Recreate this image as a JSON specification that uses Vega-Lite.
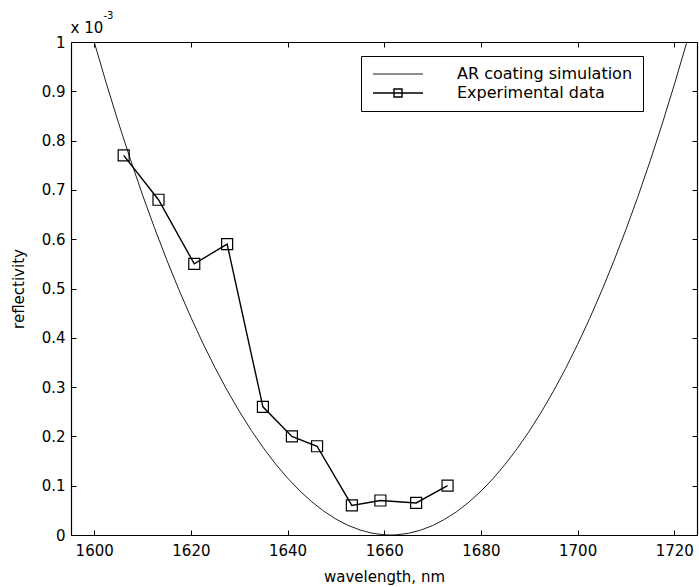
{
  "$schema": "https://vega.github.io/schema/vega-lite/v6.json",
  "width": 626,
  "height": 493,
  "autosize": {"type": "none"},
  "padding": {"left": 71, "top": 42, "right": 2, "bottom": 52},
  "background": "white",
  "config": {
    "view": {"stroke": null},
    "axis": {
      "grid": false,
      "domainColor": "black",
      "domainWidth": 1.2,
      "tickColor": "black",
      "tickSize": -5,
      "tickWidth": 1,
      "labelFont": "DejaVu Sans",
      "labelFontSize": 15,
      "labelColor": "black",
      "labelFlush": false,
      "labelOverlap": false,
      "titleFont": "DejaVu Sans",
      "titleFontSize": 15,
      "titleFontWeight": "normal",
      "titleColor": "black"
    }
  },
  "data": {
    "values": [
      {"series": "AR coating simulation", "wl": 1600, "r": 1.0},
      {"series": "AR coating simulation", "wl": 1602.5, "r": 0.9163},
      {"series": "AR coating simulation", "wl": 1605, "r": 0.8369},
      {"series": "AR coating simulation", "wl": 1607.5, "r": 0.7615},
      {"series": "AR coating simulation", "wl": 1610, "r": 0.6898},
      {"series": "AR coating simulation", "wl": 1612.5, "r": 0.6221},
      {"series": "AR coating simulation", "wl": 1615, "r": 0.5583},
      {"series": "AR coating simulation", "wl": 1617.5, "r": 0.498},
      {"series": "AR coating simulation", "wl": 1620, "r": 0.4415},
      {"series": "AR coating simulation", "wl": 1622.5, "r": 0.3886},
      {"series": "AR coating simulation", "wl": 1625, "r": 0.3393},
      {"series": "AR coating simulation", "wl": 1627.5, "r": 0.2934},
      {"series": "AR coating simulation", "wl": 1630, "r": 0.2511},
      {"series": "AR coating simulation", "wl": 1632.5, "r": 0.2121},
      {"series": "AR coating simulation", "wl": 1635, "r": 0.1766},
      {"series": "AR coating simulation", "wl": 1637.5, "r": 0.1443},
      {"series": "AR coating simulation", "wl": 1640, "r": 0.1154},
      {"series": "AR coating simulation", "wl": 1642.5, "r": 0.0898},
      {"series": "AR coating simulation", "wl": 1645, "r": 0.0674},
      {"series": "AR coating simulation", "wl": 1647.5, "r": 0.0483},
      {"series": "AR coating simulation", "wl": 1650, "r": 0.0323},
      {"series": "AR coating simulation", "wl": 1652.5, "r": 0.0196},
      {"series": "AR coating simulation", "wl": 1655, "r": 0.0101},
      {"series": "AR coating simulation", "wl": 1657.5, "r": 0.0036},
      {"series": "AR coating simulation", "wl": 1660, "r": 0.0004},
      {"series": "AR coating simulation", "wl": 1661.3, "r": 0.0},
      {"series": "AR coating simulation", "wl": 1662.5, "r": 0.0004},
      {"series": "AR coating simulation", "wl": 1665, "r": 0.0034},
      {"series": "AR coating simulation", "wl": 1667.5, "r": 0.0097},
      {"series": "AR coating simulation", "wl": 1670, "r": 0.0191},
      {"series": "AR coating simulation", "wl": 1672.5, "r": 0.0318},
      {"series": "AR coating simulation", "wl": 1675, "r": 0.0475},
      {"series": "AR coating simulation", "wl": 1677.5, "r": 0.0665},
      {"series": "AR coating simulation", "wl": 1680, "r": 0.0888},
      {"series": "AR coating simulation", "wl": 1682.5, "r": 0.1143},
      {"series": "AR coating simulation", "wl": 1685, "r": 0.1431},
      {"series": "AR coating simulation", "wl": 1687.5, "r": 0.1753},
      {"series": "AR coating simulation", "wl": 1690, "r": 0.2106},
      {"series": "AR coating simulation", "wl": 1692.5, "r": 0.2495},
      {"series": "AR coating simulation", "wl": 1695, "r": 0.2917},
      {"series": "AR coating simulation", "wl": 1697.5, "r": 0.3374},
      {"series": "AR coating simulation", "wl": 1700, "r": 0.3866},
      {"series": "AR coating simulation", "wl": 1702.5, "r": 0.4393},
      {"series": "AR coating simulation", "wl": 1705, "r": 0.4957},
      {"series": "AR coating simulation", "wl": 1707.5, "r": 0.5557},
      {"series": "AR coating simulation", "wl": 1710, "r": 0.6195},
      {"series": "AR coating simulation", "wl": 1712.5, "r": 0.687},
      {"series": "AR coating simulation", "wl": 1715, "r": 0.7584},
      {"series": "AR coating simulation", "wl": 1717.5, "r": 0.8338},
      {"series": "AR coating simulation", "wl": 1720, "r": 0.9132},
      {"series": "AR coating simulation", "wl": 1722.5, "r": 0.9966},
      {"series": "AR coating simulation", "wl": 1722.7, "r": 1.0},
      {"series": "Experimental data", "wl": 1606.1, "r": 0.77},
      {"series": "Experimental data", "wl": 1613.3, "r": 0.68},
      {"series": "Experimental data", "wl": 1620.7, "r": 0.55},
      {"series": "Experimental data", "wl": 1627.5, "r": 0.59},
      {"series": "Experimental data", "wl": 1634.9, "r": 0.26},
      {"series": "Experimental data", "wl": 1640.9, "r": 0.2},
      {"series": "Experimental data", "wl": 1646.1, "r": 0.18},
      {"series": "Experimental data", "wl": 1653.3, "r": 0.06},
      {"series": "Experimental data", "wl": 1659.2, "r": 0.07},
      {"series": "Experimental data", "wl": 1666.6, "r": 0.065},
      {"series": "Experimental data", "wl": 1673.1, "r": 0.1}
    ]
  },
  "layer": [
    {
      "mark": {"type": "line", "clip": true},
      "encoding": {
        "x": {
          "field": "wl",
          "type": "quantitative",
          "scale": {"domain": [1595.2, 1724.7], "nice": false, "zero": false},
          "axis": {
            "orient": "bottom",
            "values": [1600, 1620, 1640, 1660, 1680, 1700, 1720],
            "format": "d",
            "title": "wavelength, nm",
            "labelPadding": 13,
            "titlePadding": 11
          }
        },
        "y": {
          "field": "r",
          "type": "quantitative",
          "scale": {"domain": [0, 1], "nice": false},
          "axis": {
            "orient": "left",
            "values": [0, 0.1, 0.2, 0.3, 0.4, 0.5, 0.6, 0.7, 0.8, 0.9, 1],
            "format": "~g",
            "title": "reflectivity",
            "labelPadding": 11,
            "titlePadding": 15
          }
        },
        "color": {
          "field": "series",
          "type": "nominal",
          "scale": {
            "domain": ["AR coating simulation", "Experimental data"],
            "range": ["#1e1e1e", "#000000"]
          },
          "legend": {
            "title": null,
            "orient": "none",
            "legendX": 290,
            "legendY": 14,
            "strokeColor": "black",
            "fillColor": "white",
            "padding": 10,
            "symbolSize": 100,
            "symbolStrokeWidth": 1,
            "labelFont": "DejaVu Sans",
            "labelFontSize": 16,
            "labelColor": "black",
            "labelOffset": 70,
            "labelLimit": 400,
            "rowPadding": 3,
            "encode": {
              "symbols": {
                "update": {
                  "shape": {"signal": "datum.value === 'Experimental data' ? 'M-1.2,0H8.8M3,-0.8H4.6V0.8H3Z' : 'M-1.2,0H8.8'"},
                  "fill": {"value": "transparent"}
                }
              }
            }
          }
        },
        "strokeWidth": {
          "field": "series",
          "type": "nominal",
          "scale": {
            "domain": ["AR coating simulation", "Experimental data"],
            "range": [1, 1.4]
          },
          "legend": null
        }
      }
    },
    {
      "transform": [{"filter": "datum.series === 'Experimental data'"}],
      "mark": {
        "type": "point",
        "shape": "square",
        "filled": false,
        "size": 121,
        "stroke": "black",
        "strokeWidth": 1.2,
        "opacity": 1
      },
      "encoding": {
        "x": {
          "field": "wl",
          "type": "quantitative",
          "axis": {
            "orient": "top",
            "values": [1600, 1620, 1640, 1660, 1680, 1700, 1720],
            "labels": false,
            "title": "-3",
            "titleX": 32,
            "titleY": -24,
            "titleAlign": "left",
            "titleAngle": 0,
            "titleBaseline": "alphabetic",
            "titleFontSize": 10
          }
        },
        "y": {
          "field": "r",
          "type": "quantitative",
          "axis": {
            "orient": "right",
            "values": [0, 0.1, 0.2, 0.3, 0.4, 0.5, 0.6, 0.7, 0.8, 0.9, 1],
            "labels": false,
            "title": "x 10",
            "titleX": -627,
            "titleY": -10,
            "titleAlign": "left",
            "titleAngle": 0,
            "titleBaseline": "alphabetic"
          }
        }
      }
    }
  ],
  "resolve": {"axis": {"x": "independent", "y": "independent"}}
}
